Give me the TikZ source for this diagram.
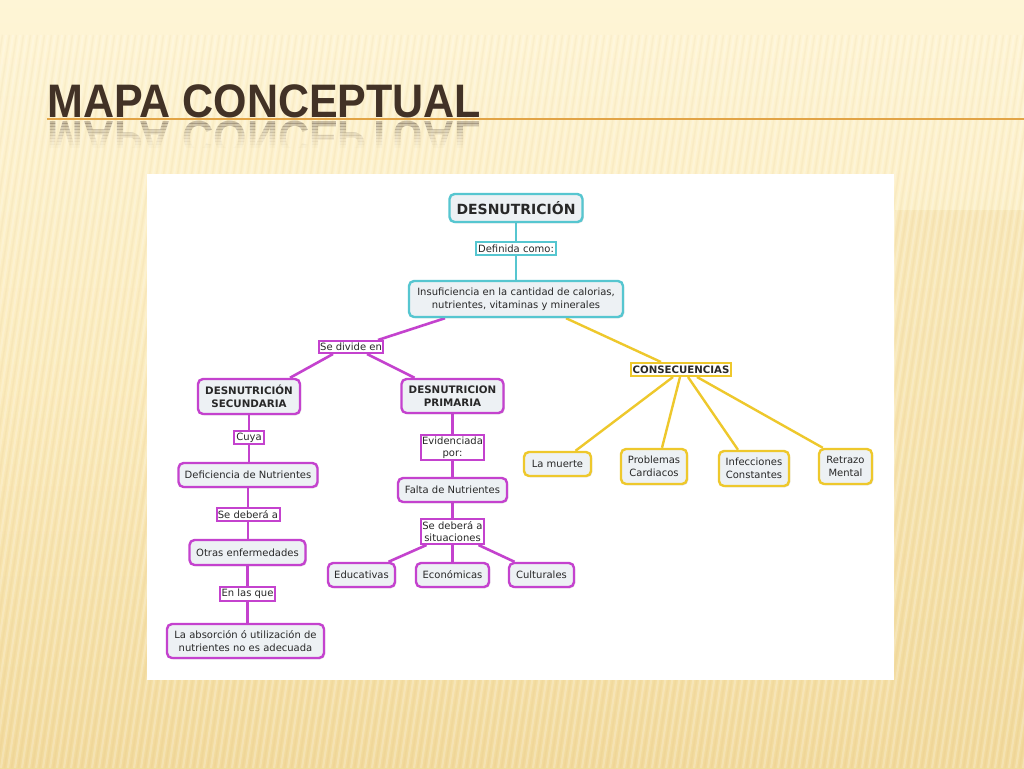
\documentclass[tikz,border=0pt]{standalone}
\usepackage{fontspec}
\setmainfont{DejaVu Sans}
\newfontfamily\titlefont[FakeStretch=0.915]{Liberation Sans Bold}
\usetikzlibrary{shadows,calc}
\definecolor{cy}{RGB}{86,198,208}
\definecolor{mg}{RGB}{196,66,206}
\definecolor{yl}{RGB}{238,200,44}
\definecolor{boxfill}{RGB}{237,241,244}
\definecolor{txt}{RGB}{40,40,40}
\definecolor{titlec}{RGB}{66,50,38}
\definecolor{bgtop}{RGB}{254,245,214}
\definecolor{bgmid}{RGB}{251,235,188}
\definecolor{bgbot}{RGB}{242,218,156}
\definecolor{ruleor}{RGB}{226,164,70}
\pgfdeclarelayer{bgl}
\pgfdeclarelayer{lines}
\pgfsetlayers{bgl,lines,main}
\tikzset{
  sz/.style 2 args={minimum width=#1pt, minimum height=#2pt},
  concept/.style={draw, rounded corners=5pt, fill=boxfill, line width=2.4pt, text=txt,
    font=\fontsize{10}{12.5}\selectfont, align=center, inner sep=1.5pt,
    drop shadow={opacity=0.22, shadow xshift=1.3pt, shadow yshift=-1.3pt}},
  cbox/.style={concept, draw=cy},
  mbox/.style={concept, draw=mg},
  ybox/.style={concept, draw=yl},
  linklab/.style={draw, fill=white, line width=2pt, text=txt,
    font=\fontsize{10}{12.5}\selectfont, align=center, inner sep=1pt},
  clab/.style={linklab, draw=cy},
  mlab/.style={linklab, draw=mg},
  ylab/.style={linklab, draw=yl, font=\fontsize{10.2}{12}\selectfont\bfseries},
  cline/.style={cy, line width=2.2pt},
  mline/.style={mg, line width=2.6pt},
  yline/.style={yl, line width=2.4pt},
  ttl/.style={anchor=base west, inner sep=0pt, text=titlec, font=\titlefont\fontsize{47}{47}\selectfont},
}
\begin{document}
\begin{tikzpicture}[x=1pt,y=-1pt]
\useasboundingbox (0,0) rectangle (1024,768);
% ---------- background ----------
\begin{pgfonlayer}{bgl}
\shade[top color=bgtop, bottom color=bgbot, middle color=bgmid] (0,0) rectangle (1024,768);
\fill[bgbot, opacity=0.35] (895,210) rectangle (1024,768);
\begin{scope}
  \clip (0,35) rectangle (1024,768);
  \foreach \x in {-160,-153,...,1030} {
    \draw[white, opacity=0.22, line width=2.2pt] ({\x+110},35) -- (\x,768);
    \draw[brown, opacity=0.05, line width=1.6pt] ({\x+113.5},35) -- ({\x+3.5},768);
  }
\end{scope}
% white panel
\fill[white] (147,174) rectangle (894,680);
\end{pgfonlayer}
% ---------- title ----------
\draw[ruleor, line width=1.8pt] (47,119) -- (1024,119);
\node[ttl] (title) at (47,117) {MAPA CONCEPTUAL};
\foreach \a/\op in {0/0.28,3/0.24,6/0.20,9/0.16,12/0.12,15/0.09,18/0.06,21/0.04,24/0.02} {
  \begin{scope}
    \clip (40,{120+\a}) rectangle (520,{123+\a});
    \node[ttl, yscale=-1, opacity=\op] at (47,121) {MAPA CONCEPTUAL};
  \end{scope}
}
% ---------- nodes ----------
\node[cbox, sz={133}{28}, font=\fontsize{14}{16}\selectfont\bfseries] (top) at (516,208) {DESNUTRICIÓN};
\node[clab, sz={80}{13}] (def) at (516,248.5) {Definida como:};
\node[cbox, sz={214}{36}] (ins) at (516,299) {Insuficiencia en la cantidad de calorias,\\nutrientes, vitaminas y minerales};
\node[mlab, sz={64}{12}] (sd) at (351,347) {Se divide en};
\node[mbox, sz={102}{35}, font=\fontsize{10.3}{12.5}\selectfont\bfseries] (sec) at (249,396.5) {DESNUTRICIÓN\\SECUNDARIA};
\node[mbox, sz={102}{34}, font=\fontsize{10.3}{12.5}\selectfont\bfseries] (pri) at (452.5,396) {DESNUTRICION\\PRIMARIA};
\node[ylab, sz={100}{13}] (con) at (681,369.5) {CONSECUENCIAS};
% secondary column
\node[mlab, sz={30}{13}] (cuya) at (249,437.5) {Cuya};
\node[mbox, sz={139}{24}] (defn) at (248,475) {Deficiencia de Nutrientes};
\node[mlab, sz={63}{13}] (sda) at (248,514.5) {Se deberá a};
\node[mbox, sz={116}{25}] (otr) at (247.5,552.5) {Otras enfermedades};
\node[mlab, sz={55}{14}] (enl) at (247.5,594) {En las que};
\node[mbox, sz={157}{34}] (abs) at (245.5,641) {La absorción ó utilización de\\nutrientes no es adecuada};
% primary column
\node[mlab, sz={63}{25}] (evi) at (452.5,447.5) {Evidenciada\\por:};
\node[mbox, sz={109}{24}] (fal) at (452.5,490) {Falta de Nutrientes};
\node[mlab, sz={63}{25}] (sd2) at (452.5,531.5) {Se deberá a\\situaciones};
\node[mbox, sz={67}{24}] (edu) at (361.5,575) {Educativas};
\node[mbox, sz={73}{24}] (eco) at (452.5,575) {Económicas};
\node[mbox, sz={65}{24}] (cul) at (541.5,575) {Culturales};
% consequences
\node[ybox, sz={67}{24}] (lm) at (557.5,464) {La muerte};
\node[ybox, sz={66}{35}] (pc) at (654,466.5) {Problemas\\Cardiacos};
\node[ybox, sz={70}{35}] (ic) at (754,468.5) {Infecciones\\Constantes};
\node[ybox, sz={53}{35}] (rm) at (845.5,466.5) {Retrazo\\Mental};
% ---------- connectors ----------
\begin{pgfonlayer}{lines}
\draw[cline] (top.south) -- (def.north);
\draw[cline] (def.south) -- (ins.north);
\draw[mline] ([xshift=-71pt]ins.south) -- ([xshift=27pt]sd.north);
\draw[mline] ([xshift=-18pt]sd.south) -- ([xshift=41pt]sec.north);
\draw[mline] ([xshift=16pt]sd.south) -- ([xshift=-38pt]pri.north);
\draw[yline] ([xshift=50pt]ins.south) -- ([xshift=-20pt]con.north);
\draw[yline] ([xshift=-8pt]con.south) -- ([xshift=18pt]lm.north);
\draw[yline] ([xshift=-1pt]con.south) -- ([xshift=8pt]pc.north);
\draw[yline] ([xshift=7pt]con.south) -- ([xshift=-16pt]ic.north);
\draw[yline] ([xshift=16pt]con.south) -- ([xshift=5pt]rm.north west);
\draw[mline] (sec.south) -- (sec.south |- cuya.north);
\draw[mline] (cuya.south) -- (cuya.south |- defn.north);
\draw[mline] (defn.south) -- (defn.south |- sda.north);
\draw[mline] (sda.south) -- (sda.south |- otr.north);
\draw[mline] (otr.south) -- (otr.south |- enl.north);
\draw[mline] (enl.south) -- (enl.south |- abs.north);
\draw[mline] (pri.south) -- (pri.south |- evi.north);
\draw[mline] (evi.south) -- (evi.south |- fal.north);
\draw[mline] (fal.south) -- (fal.south |- sd2.north);
\draw[mline] ([xshift=-26pt]sd2.south) -- ([xshift=27pt]edu.north);
\draw[mline] (sd2.south) -- (sd2.south |- eco.north);
\draw[mline] ([xshift=26pt]sd2.south) -- ([xshift=-27pt]cul.north);
\end{pgfonlayer}
\end{tikzpicture}
\end{document}
